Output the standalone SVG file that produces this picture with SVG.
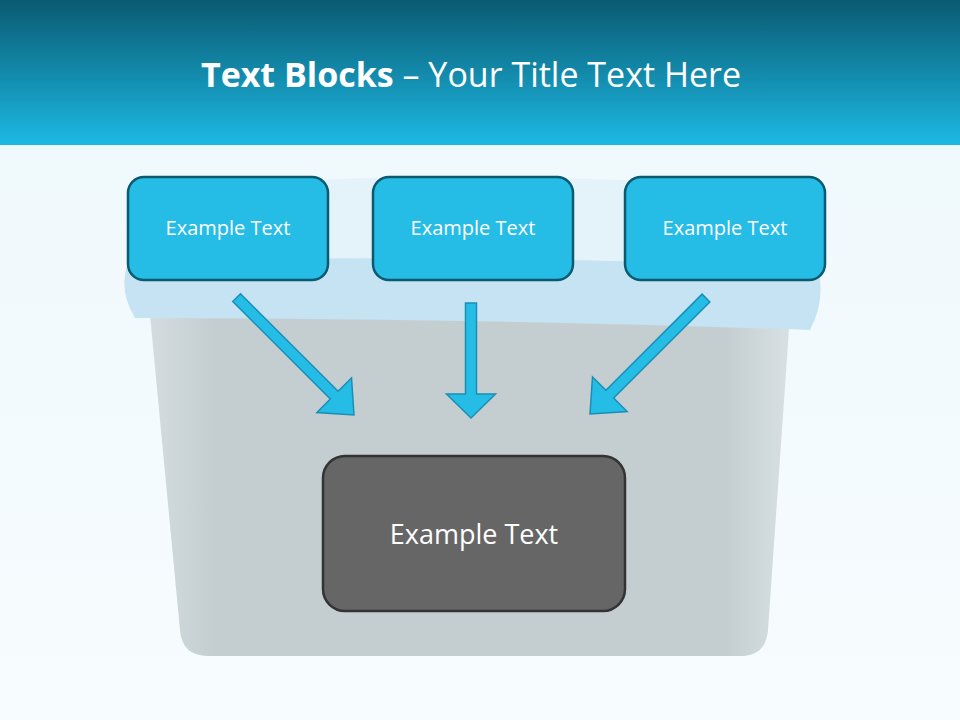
<svg xmlns="http://www.w3.org/2000/svg" width="960" height="720" viewBox="0 0 960 720">
<defs>
<linearGradient id="hdr" x1="0" y1="0" x2="0" y2="1"><stop offset="0" stop-color="#0a5a72"/><stop offset="1" stop-color="#1cb9e3"/></linearGradient>
<linearGradient id="bg" x1="0" y1="0" x2="0" y2="1"><stop offset="0" stop-color="#eef8fc"/><stop offset="1" stop-color="#f7fcfe"/></linearGradient>
<linearGradient id="body" x1="0" y1="0" x2="1" y2="0"><stop offset="0" stop-color="#d4dcdf"/><stop offset="0.1" stop-color="#c4ced1"/><stop offset="0.9" stop-color="#c4ced1"/><stop offset="1" stop-color="#d8e0e3"/></linearGradient>
<style>
.bx{fill:#25bce6;stroke:#0b5a70;stroke-width:2.5}
.ar{fill:#25bce6;stroke:#1a8fb5;stroke-width:1.5}
.t{font-family:"Open Sans","Liberation Sans",sans-serif;fill:#fff;text-anchor:middle}
</style>
</defs>
<rect width="960" height="720" fill="url(#bg)"/>
<rect width="960" height="145" fill="url(#hdr)"/>
<text x="471" y="87" class="t" font-size="34"><tspan font-weight="bold">Text Blocks</tspan> – Your Title Text Here</text>
<g id="bin">
<path d="M150 315 L790 315 L768 630 Q766 656 740 656 L208 656 Q182 656 180 630 Z" fill="url(#body)"/>
<path d="M170 188 Q470 165 790 190 L800 270 L140 270 Z" fill="#d8ecf6" opacity="0.5"/>
<path d="M128 262 Q470 252 818 268 Q826 300 810 330 Q470 318 135 318 Q118 290 128 262 Z" fill="#c5e3f3"/>
</g>
<g id="node1"><rect x="128" y="177" width="200" height="103" rx="16" class="bx"/><text x="228" y="235" class="t" font-size="20">Example Text</text></g>
<g id="node2"><rect x="373" y="177" width="200" height="103" rx="16" class="bx"/><text x="473" y="235" class="t" font-size="20">Example Text</text></g>
<g id="node3"><rect x="625" y="177" width="200" height="103" rx="16" class="bx"/><text x="725" y="235" class="t" font-size="20">Example Text</text></g>
<g id="node4"><rect x="323" y="456" width="302" height="155" rx="22" fill="#666" stroke="#333" stroke-width="2.5"/><text x="474" y="544" class="t" font-size="27">Example Text</text></g>
<g id="connectors">
<path class="ar" transform="translate(471,418)" d="M-5.5 -115 L5.5 -115 L5.5 -24 L24.5 -24 L0 0 L-24.5 -24 L-5.5 -24 Z"/>
<path class="ar" transform="translate(354,415) rotate(-45)" d="M-5.5 -166 L5.5 -166 L5.5 -28 L24.5 -28 L0 0 L-24.5 -28 L-5.5 -28 Z"/>
<path class="ar" transform="translate(590,414) rotate(45)" d="M-5.5 -164 L5.5 -164 L5.5 -28 L24.5 -28 L0 0 L-24.5 -28 L-5.5 -28 Z"/>
</g>
</svg>
